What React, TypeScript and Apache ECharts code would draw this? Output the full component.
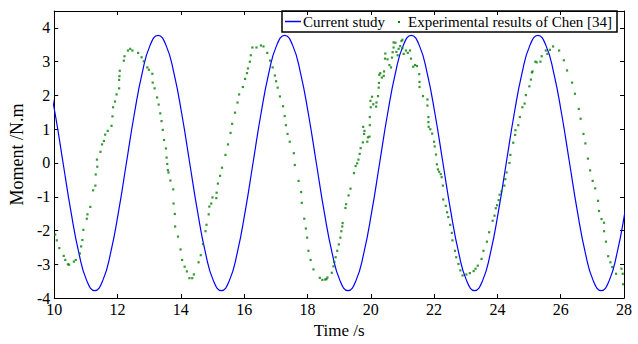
import React, { useEffect, useRef } from "react";
import * as echarts from "echarts";

const FONT = "'Liberation Serif', 'Times New Roman', Times, serif";

// Simulated moment (Current study)
const simTime = [
  9.78, 10.03, 10.28, 10.53, 10.78, 11.03, 11.28, 11.53, 11.78, 12.03, 12.28, 12.53, 12.78, 13.03, 13.28, 13.53,
  13.78, 14.03, 14.28, 14.53, 14.78, 15.03, 15.28, 15.53, 15.78, 16.03, 16.28, 16.53, 16.78, 17.03, 17.28, 17.53,
  17.78, 18.03, 18.28, 18.53, 18.78, 19.03, 19.28, 19.53, 19.78, 20.03, 20.28, 20.53, 20.78, 21.03, 21.28, 21.53,
  21.78, 22.03, 22.28, 22.53, 22.78, 23.03, 23.28, 23.53, 23.78, 24.03, 24.28, 24.53, 24.78, 25.03, 25.28, 25.53,
  25.78, 26.03, 26.28, 26.53, 26.78, 27.03, 27.28, 27.53, 27.78, 28.03, 28.28,
];
const simMoment = [
  2.67, 1.45, 0, -1.45, -2.67, -3.49, -3.78, -3.49, -2.67, -1.45, 0, 1.45, 2.67, 3.49, 3.78, 3.49,
  2.67, 1.45, 0, -1.45, -2.67, -3.49, -3.78, -3.49, -2.67, -1.45, 0, 1.45, 2.67, 3.49, 3.78, 3.49,
  2.67, 1.45, 0, -1.45, -2.67, -3.49, -3.78, -3.49, -2.67, -1.45, 0, 1.45, 2.67, 3.49, 3.78, 3.49,
  2.67, 1.45, 0, -1.45, -2.67, -3.49, -3.78, -3.49, -2.67, -1.45, 0, 1.45, 2.67, 3.49, 3.78, 3.49,
  2.67, 1.45, 0, -1.45, -2.67, -3.49, -3.78, -3.49, -2.67, -1.45, 0,
];

// Experimental results of Chen [34]
const expTime = [
  10.03, 10.08, 10.16, 10.30, 10.35, 10.43, 10.47, 10.62, 10.68, 10.81, 10.85, 10.89, 10.92, 11.03, 11.05, 11.14,
  11.23, 11.30, 11.31, 11.36, 11.35, 11.46, 11.51, 11.57, 11.61, 11.69, 11.81, 11.84, 11.86, 11.92, 11.97, 12.05,
  12.05, 12.06, 12.07, 12.20, 12.22, 12.33, 12.40, 12.47, 12.65, 12.76, 12.83, 12.94, 12.99, 13.10, 13.11, 13.17,
  13.25, 13.30, 13.35, 13.39, 13.43, 13.47, 13.53, 13.55, 13.57, 13.59, 13.61, 13.67, 13.76, 13.77, 13.81, 13.82,
  13.91, 13.99, 14.04, 14.12, 14.19, 14.27, 14.36, 14.41, 14.56, 14.63, 14.70, 14.78, 14.81, 14.88, 14.90, 14.96,
  15.00, 15.12, 15.13, 15.17, 15.24, 15.30, 15.41, 15.49, 15.57, 15.62, 15.71, 15.79, 15.84, 15.96, 16.03, 16.09,
  16.12, 16.18, 16.21, 16.26, 16.39, 16.53, 16.61, 16.73, 16.82, 16.90, 16.97, 17.01, 17.06, 17.13, 17.23, 17.28,
  17.32, 17.37, 17.44, 17.57, 17.60, 17.72, 17.80, 17.82, 17.90, 17.95, 17.99, 18.03, 18.10, 18.19, 18.39, 18.47,
  18.56, 18.60, 18.63, 18.77, 18.82, 18.85, 18.89, 18.94, 18.99, 19.04, 19.07, 19.10, 19.11, 19.20, 19.22, 19.30,
  19.36, 19.47, 19.52, 19.57, 19.61, 19.65, 19.68, 19.75, 19.76, 19.79, 19.80, 19.89, 19.91, 19.96, 19.97, 19.97,
  20.00, 19.99, 20.04, 20.08, 20.17, 20.18, 20.23, 20.25, 20.26, 20.27, 20.30, 20.35, 20.41, 20.42, 20.45, 20.46,
  20.53, 20.59, 20.64, 20.67, 20.69, 20.72, 20.72, 20.78, 20.81, 20.85, 20.88, 20.93, 20.97, 21.00, 21.00, 21.04,
  21.11, 21.17, 21.24, 21.27, 21.34, 21.40, 21.46, 21.53, 21.54, 21.54, 21.65, 21.79, 21.79, 21.82, 21.82, 21.83,
  21.88, 21.94, 22.00, 22.02, 22.06, 22.09, 22.12, 22.16, 22.21, 22.24, 22.28, 22.29, 22.37, 22.41, 22.45, 22.51,
  22.56, 22.58, 22.66, 22.70, 22.77, 22.83, 22.90, 23.02, 23.13, 23.25, 23.31, 23.38, 23.50, 23.56, 23.67, 23.74,
  23.85, 23.91, 23.95, 23.99, 24.04, 24.07, 24.13, 24.22, 24.25, 24.29, 24.38, 24.41, 24.50, 24.56, 24.57, 24.66,
  24.71, 24.79, 24.86, 24.90, 25.01, 25.06, 25.09, 25.11, 25.20, 25.24, 25.36, 25.40, 25.53, 25.58, 25.66, 25.76,
  25.95, 26.10, 26.20, 26.36, 26.45, 26.57, 26.63, 26.72, 26.78, 26.86, 26.93, 27.01, 27.09, 27.18, 27.21, 27.29,
  27.37, 27.37, 27.43, 27.50, 27.57, 27.63, 27.75, 27.92, 27.96, 27.97,
];
const expMoment = [
  -2.12, -2.29, -2.52, -2.75, -2.87, -3.0, -3.01, -2.92, -2.87, -2.68, -2.47, -2.28, -1.98, -1.65, -1.52, -1.3,
  -0.81, -0.67, -0.34, -0.11, 0.1, 0.33, 0.55, 0.65, 0.84, 0.95, 1.1, 1.38, 1.65, 1.82, 2.03, 2.21,
  2.46, 2.57, 2.73, 3.03, 3.16, 3.33, 3.38, 3.33, 3.26, 3.13, 3.01, 2.83, 2.76, 2.64, 2.38, 2.21,
  1.94, 1.73, 1.47, 1.24, 0.98, 0.68, 0.43, 0.16, -0.03, -0.21, -0.28, -0.52, -0.78, -1.2, -1.51, -1.88,
  -2.18, -2.56, -2.87, -3.07, -3.21, -3.41, -3.41, -3.3, -2.94, -2.73, -2.4, -2.02, -1.83, -1.52, -1.29, -1.2,
  -1.02, -1.04, -0.88, -0.61, -0.38, -0.14, 0.24, 0.55, 0.89, 1.16, 1.49, 1.79, 2.03, 2.25, 2.49, 2.66,
  2.8, 3.0, 3.19, 3.42, 3.42, 3.48, 3.45, 3.26, 3.03, 2.83, 2.59, 2.42, 2.23, 1.97, 1.68, 1.39,
  1.12, 0.86, 0.63, 0.29, -0.06, -0.53, -0.86, -1.18, -1.65, -1.94, -2.21, -2.6, -2.87, -3.15, -3.4, -3.46,
  -3.45, -3.44, -3.39, -3.25, -3.06, -2.93, -2.79, -2.6, -2.41, -2.21, -2.02, -1.88, -1.78, -1.33, -1.22, -0.96,
  -0.76, -0.3, -0.09, -0.01, 0.1, 0.27, 0.44, 0.61, 1.07, 0.86, 0.95, 0.63, 0.76, 0.78, 1.12, 1.36,
  1.65, 1.84, 1.96, 1.74, 1.67, 1.79, 1.98, 2.23, 2.37, 2.61, 2.66, 2.53, 2.58, 2.71, 3.09, 3.24,
  3.07, 2.9, 2.83, 3.12, 3.28, 3.42, 3.57, 3.56, 3.29, 3.19, 3.38, 3.46, 3.61, 3.65, 3.4, 3.23,
  3.33, 3.26, 3.33, 3.09, 2.85, 2.9, 2.87, 2.63, 2.4, 2.25, 1.98, 1.88, 1.7, 1.36, 1.21, 1.07,
  1.0, 0.87, 0.63, 0.49, 0.25, -0.04, -0.19, -0.26, -0.33, -0.42, -0.67, -1.08, -1.27, -1.46, -1.6, -1.83,
  -2.07, -2.29, -2.6, -2.79, -2.99, -3.18, -3.33, -3.3, -3.26, -3.2, -3.13, -3.04, -2.84, -2.6, -2.33, -2.05,
  -1.71, -1.56, -1.34, -1.25, -1.1, -0.94, -0.84, -0.67, -0.48, -0.28, 0.0, 0.24, 0.6, 0.83, 0.97, 1.12,
  1.36, 1.65, 1.76, 2.01, 2.27, 2.47, 2.68, 2.71, 3.0, 2.98, 3.0, 3.16, 3.33, 3.23, 3.35, 3.45,
  3.33, 3.04, 2.74, 2.38, 2.05, 1.6, 1.31, 0.86, 0.58, 0.13, -0.22, -0.53, -0.75, -1.12, -1.42, -1.66,
  -1.77, -2.02, -2.33, -2.76, -2.94, -3.08, -3.28, -3.13, -3.28, -3.59,
];

const seriesNames = ["Current study", "Experimental results of Chen [34]"];
const xTickInterval = 2;
const yTickInterval = 1;

export default function App() {
  const ref = useRef<HTMLDivElement>(null);

  useEffect(() => {
    if (!ref.current) return;
    const chart = echarts.init(ref.current, null, { renderer: "svg" });

    const axisLine = { show: true, onZero: false, lineStyle: { color: "#000", width: 1 } };
    const tick = { show: true, inside: true, length: 4, lineStyle: { color: "#000", width: 1 } };
    const label = { fontFamily: FONT, fontSize: 16, color: "#000" };

    chart.setOption({
      animation: false,
      backgroundColor: "#fff",
      grid: { left: 51, right: 14, top: 11, bottom: 39, containLabel: false },
      xAxis: [
        {
          type: "value",
          min: 10,
          max: 28,
          interval: xTickInterval,
          position: "bottom",
          name: "Time /s",
          nameLocation: "middle",
          nameGap: 20,
          nameTextStyle: { fontFamily: FONT, fontSize: 17, color: "#000" },
          axisLine,
          axisTick: tick,
          axisLabel: { ...label, margin: 3 },
          splitLine: { show: false },
        },
        {
          type: "value",
          min: 10,
          max: 28,
          interval: xTickInterval,
          position: "top",
          axisLine,
          axisTick: tick,
          axisLabel: { show: false },
          splitLine: { show: false },
        },
      ],
      yAxis: [
        {
          type: "value",
          min: -4,
          max: 4.5,
          interval: yTickInterval,
          position: "left",
          name: "Moment /N.m",
          nameLocation: "middle",
          nameGap: 19,
          nameTextStyle: { fontFamily: FONT, fontSize: 18, color: "#000" },
          axisLine,
          axisTick: tick,
          axisLabel: {
            ...label,
            margin: 4,
            showMaxLabel: false,
            formatter: (v: number) => (Number.isInteger(v) ? String(v) : ""),
          },
          splitLine: { show: false },
        },
        {
          type: "value",
          min: -4,
          max: 4.5,
          interval: yTickInterval,
          position: "right",
          axisLine,
          axisTick: tick,
          axisLabel: { show: false },
          splitLine: { show: false },
        },
      ],
      series: [
        {
          name: seriesNames[0],
          type: "line",
          xAxisIndex: 0,
          yAxisIndex: 0,
          data: simTime.map((t, i) => [t, simMoment[i]]),
          showSymbol: false,
          symbol: "none",
          smooth: true,
          clip: true,
          lineStyle: { color: "#0000ff", width: 1.2 },
          z: 2,
        },
        {
          name: seriesNames[1],
          type: "scatter",
          xAxisIndex: 0,
          yAxisIndex: 0,
          data: expTime.map((t, i) => [t, expMoment[i]]),
          symbol: "rect",
          symbolSize: 2.2,
          itemStyle: { color: "#008000" },
          z: 3,
        },
      ],
      graphic: [
        {
          type: "group",
          z: 100,
          children: [
            {
              type: "rect",
              shape: { x: 282, y: 11, width: 335, height: 21 },
              style: { fill: "#fff", stroke: "#000", lineWidth: 1.5 },
            },
            {
              type: "line",
              shape: { x1: 285, y1: 21.5, x2: 301, y2: 21.5 },
              style: { stroke: "#0000ff", lineWidth: 1.5 },
            },
            {
              type: "text",
              x: 303,
              y: 21.5,
              style: {
                text: seriesNames[0],
                fontFamily: FONT,
                fontSize: 15,
                fill: "#000",
                verticalAlign: "middle",
                align: "left",
              },
            },
            {
              type: "rect",
              shape: { x: 398, y: 21, width: 2, height: 2 },
              style: { fill: "#008000" },
            },
            {
              type: "text",
              x: 408,
              y: 21.5,
              style: {
                text: seriesNames[1],
                fontFamily: FONT,
                fontSize: 15,
                fill: "#000",
                verticalAlign: "middle",
                align: "left",
              },
            },
          ],
        },
      ],
    });

    return () => chart.dispose();
  }, []);

  return (
    <div
      ref={ref}
      style={{ position: "absolute", left: 0, top: 0, width: 638, height: 344 }}
    />
  );
}
